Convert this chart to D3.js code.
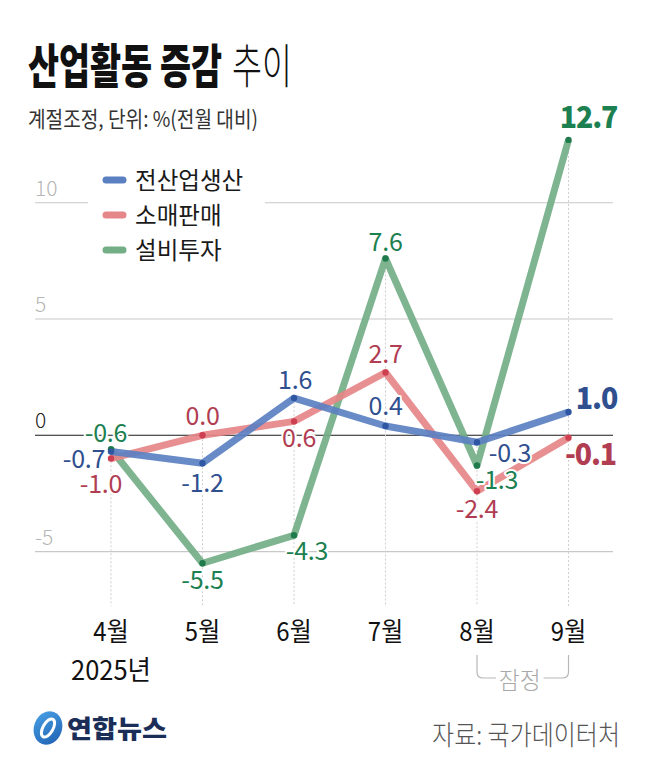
<!DOCTYPE html>
<html><head><meta charset="utf-8">
<script src="https://cdn.jsdelivr.net/npm/d3@7"></script>
<style>
body{margin:0;background:#fff}
svg{display:block}
text{font-family:"Noto Sans CJK KR","Noto Sans",sans-serif}
</style>
</head><body>
<svg id="chart" width="652" height="764"></svg>
<script>
// ---- data ----
const months = ["4월","5월","6월","7월","8월","9월"];
const seriesNames = ["전산업생산","소매판매","설비투자"];
const production = [-0.7,-1.2,1.6,0.4,-0.3,1.0];
const retail = [-1.0,0.0,0.6,2.7,-2.4,-0.1];
const investment = [-0.6,-5.5,-4.3,7.6,-1.3,12.7];
const yTicks = [10,5,0,-5];
const titleBold = "산업활동 증감";
const titleLight = "추이";
const subtitle = "계절조정, 단위: %(전월 대비)";
const yearLabel = "2025년";
const provisional = "잠정";
const source = "자료: 국가데이터처";
const brand = "연합뉴스";

// ---- layout / style (not data) ----
const colors = {
  line: ["#5b80c2","#e58688","#74ae87"],
  dot:  ["#2f56a3","#cf3f52","#1f7a4c"],
  label:["#2f4f8f","#b13d52","#1c8050"]
};
// label offsets relative to each point (center of label)
const labelOffsets = [
  [[-27,7],[0,20],[1,-18],[0,-20],[33,11],[28,-14]],
  [[-10,25],[0,-19],[5,17],[0,-18],[0,18],[22,17]],
  [[-5,-16],[0,17],[13,16],[0,-17],[20,14],[20,-23]]
];

const svg = d3.select("#chart");
const x = d3.scalePoint().domain(months).range([111, 568.5]);
const y = d3.scaleLinear().domain([-5,10]).range([551.6, 202.7]);
const allSeries = [production, retail, investment];

function fit(sel, w){
  const n = sel.node();
  const L = n.getComputedTextLength();
  const s = w / L;
  const tx = +sel.attr("x"), ty = +sel.attr("y");
  sel.attr("x",0).attr("y",0).attr("transform",`translate(${tx},${ty}) scale(${s},1)`);
  return sel;
}
function squeeze(sel, s){
  const tx = +sel.attr("x"), ty = +sel.attr("y");
  sel.attr("x",0).attr("y",0).attr("transform",`translate(${tx},${ty}) scale(${s},1)`);
  return sel;
}

// ---- title ----
fit(svg.append("text").attr("x",28).attr("y",83).attr("font-size",47).attr("font-weight",900)
  .attr("fill","#111").text(titleBold), 194);
fit(svg.append("text").attr("x",232).attr("y",83).attr("font-size",47).attr("font-weight",300)
  .attr("fill","#111").text(titleLight), 60);
fit(svg.append("text").attr("x",28).attr("y",127).attr("font-size",22).attr("font-weight",400)
  .attr("fill","#333").text(subtitle), 230);

// ---- grid ----
const grid = svg.append("g");
grid.selectAll("line.g").data(yTicks).join("line")
  .attr("x1",35).attr("x2",613)
  .attr("y1",d=>y(d)).attr("y2",d=>y(d))
  .attr("stroke",d=>d===0?"#1a1a1a":"#c8c8c8").attr("stroke-width",1.1);
grid.selectAll("text.t").data(yTicks).join("text")
  .attr("x",35).attr("y",d=>y(d)-7)
  .attr("font-size",21).attr("font-weight",300)
  .attr("fill",d=>d===0?"#222":"#b5b5b5")
  .text(d=>d);

// dotted verticals from top value to bottom
grid.selectAll("line.v").data(months).join("line")
  .attr("x1",d=>x(d)).attr("x2",d=>x(d))
  .attr("y1",(d,i)=>y(d3.max(allSeries,s=>s[i])))
  .attr("y2",606)
  .attr("stroke","#cfcfcf").attr("stroke-width",1).attr("stroke-dasharray","2,2");

// ---- legend ----
svg.append("rect").attr("x",88).attr("y",160).attr("width",177).attr("height",108).attr("fill","#fff");
const leg = svg.append("g");
seriesNames.forEach((name,i)=>{
  const cy = 180 + i*35;
  leg.append("line").attr("x1",106).attr("x2",123).attr("y1",cy).attr("y2",cy)
    .attr("stroke",colors.line[i]).attr("stroke-width",7).attr("stroke-linecap","round");
  squeeze(leg.append("text").attr("x",135).attr("y",cy+8.5).attr("font-size",24)
    .attr("fill","#1a1a1a").text(name), 0.98);
});

// ---- lines ----
const lineGen = d3.line().x((d,i)=>x(months[i])).y(d=>y(d));
const order = [2,1,0];
order.forEach(k=>{
  svg.append("path").datum(allSeries[k]).attr("d",lineGen)
    .attr("fill","none").attr("stroke",colors.line[k]).attr("stroke-width",7)
    .attr("stroke-linejoin","round").attr("stroke-linecap","butt").attr("opacity",0.92);
});
order.forEach(k=>{
  svg.append("g").selectAll("circle").data(allSeries[k]).join("circle")
    .attr("cx",(d,i)=>x(months[i])).attr("cy",d=>y(d)).attr("r",3.2)
    .attr("fill",colors.dot[k]);
});

// ---- labels ----
order.forEach(k=>{
  const g = svg.append("g");
  allSeries[k].forEach((v,i)=>{
    const last = i===months.length-1;
    const [dx,dy] = labelOffsets[k][i];
    const t = g.append("text")
      .attr("x",x(months[i])+dx).attr("y",y(v)+dy)
      .attr("dy","0.36em").attr("text-anchor","middle")
      .attr("font-size",last?30:25).attr("font-weight",last?800:400)
      .attr("letter-spacing",last?-1.2:-0.2)
      .attr("fill",colors.label[k])
      .attr("stroke","#fff").attr("stroke-width",4).attr("paint-order","stroke")
      .attr("stroke-linejoin","round")
      .text(v.toFixed(1));
    squeeze(t, last?0.95:1);
  });
});

// ---- x axis labels ----
svg.append("g").selectAll("text").data(months).join("text")
  .attr("x",d=>x(d)).attr("y",641).attr("text-anchor","middle")
  .attr("font-size",26).attr("fill","#111").text(d=>d)
  .each(function(){ squeeze(d3.select(this),0.92); });
fit(svg.append("text").attr("x",x(months[0])).attr("y",680).attr("text-anchor","middle")
  .attr("font-size",27).attr("fill","#111").text(yearLabel), 80);

// provisional bracket
const bx1 = x(months[4]), bx2 = x(months[5]);
const by = 678, btop = 655, r = 6;
svg.append("path")
  .attr("d",`M${bx1},${btop} V${by-r} Q${bx1},${by} ${bx1+r},${by} H${bx1+19}`)
  .attr("fill","none").attr("stroke","#b8b8b8").attr("stroke-width",1.2);
svg.append("path")
  .attr("d",`M${bx2-25},${by} H${bx2-r} Q${bx2},${by} ${bx2},${by-r} V${btop}`)
  .attr("fill","none").attr("stroke","#b8b8b8").attr("stroke-width",1.2);
squeeze(svg.append("text").attr("x",(bx1+bx2)/2-3).attr("y",689).attr("text-anchor","middle")
  .attr("font-size",24).attr("font-weight",300).attr("fill","#a8a8a8").text(provisional), 0.95);

// ---- footer ----
const logo = svg.append("g").attr("transform","translate(48,728) rotate(20)");
const grad = svg.append("defs").append("linearGradient").attr("id","lg")
  .attr("x1","0").attr("y1","0").attr("x2","1").attr("y2","1");
grad.append("stop").attr("offset","0").attr("stop-color","#4aa3e8");
grad.append("stop").attr("offset","1").attr("stop-color","#1d5fb0");
logo.append("ellipse").attr("rx",14).attr("ry",17).attr("fill","url(#lg)");
logo.append("ellipse").attr("rx",5).attr("ry",10).attr("fill","none")
  .attr("stroke","#fff").attr("stroke-width",3).attr("transform","rotate(10)");
fit(svg.append("text").attr("x",67).attr("y",738).attr("font-size",25).attr("font-weight",900)
  .attr("fill","#1b2e58").text(brand), 100);
fit(svg.append("text").attr("x",620).attr("y",745).attr("text-anchor","end")
  .attr("font-size",27).attr("font-weight",300).attr("fill","#555").text(source), 188);
</script>
</body></html>
